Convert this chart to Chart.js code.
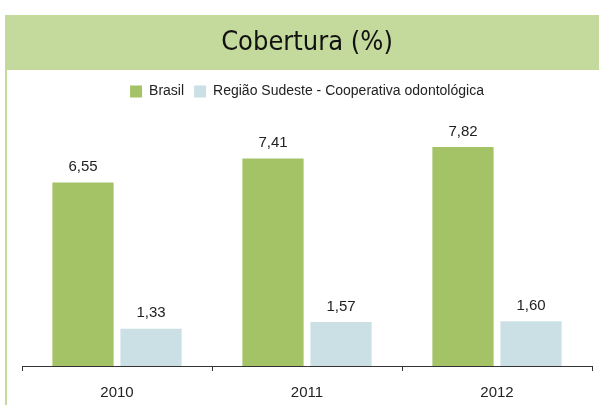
<!DOCTYPE html>
<html>
<head>
<meta charset="utf-8">
<script src="https://cdn.jsdelivr.net/npm/chart.js@4"></script>
<style>
  html, body { margin: 0; padding: 0; background: #ffffff; }
  #wrap { width: 599px; height: 405px; }
</style>
</head>
<body>
<div id="wrap"><canvas id="c" width="599" height="405"></canvas></div>
<script>
const years = ['2010', '2011', '2012'];
const brasil = [6.55, 7.41, 7.82];
const sudeste = [1.33, 1.57, 1.60];
const seriesNames = ['Brasil', 'Região Sudeste - Cooperativa odontológica'];

const BAND = '#c4da9c';
const GREEN = '#a4c266';
const LIGHT = '#cbe0e5';

// Green header band and thin left rule behind everything
const framePlugin = {
  id: 'frame',
  beforeDraw(chart) {
    const ctx = chart.ctx;
    ctx.save();
    ctx.fillStyle = BAND;
    ctx.fillRect(5, 15, chart.width - 5, 55);
    ctx.fillRect(5, 70, 2, chart.height - 70);
    ctx.restore();
  }
};

// Value labels above each bar, decimal comma
const valueLabels = {
  id: 'valueLabels',
  afterDatasetsDraw(chart) {
    const ctx = chart.ctx;
    ctx.save();
    ctx.font = '15px "Liberation Sans", Arial, sans-serif';
    ctx.fillStyle = '#222222';
    ctx.textAlign = 'center';
    ctx.textBaseline = 'bottom';
    chart.data.datasets.forEach((ds, i) => {
      chart.getDatasetMeta(i).data.forEach((bar, j) => {
        const txt = ds.data[j].toFixed(2).replace('.', ',');
        ctx.fillText(txt, bar.x, bar.y - 8);
      });
    });
    ctx.restore();
  }
};

new Chart(document.getElementById('c'), {
  type: 'bar',
  data: {
    labels: years,
    datasets: [
      { label: seriesNames[0], data: brasil, backgroundColor: GREEN,
        barPercentage: 0.9, categoryPercentage: 0.716 },
      { label: seriesNames[1], data: sudeste, backgroundColor: LIGHT,
        barPercentage: 0.9, categoryPercentage: 0.716 }
    ]
  },
  options: {
    responsive: false,
    animation: false,
    layout: { padding: { left: 22, right: 7, top: 0, bottom: -10 } },
    plugins: {
      title: {
        display: true,
        text: 'Cobertura (%)',
        color: '#111111',
        font: { family: '"Liberation Sans Narrow", "DejaVu Sans Condensed", Arial, sans-serif', size: 27, weight: 'normal' },
        padding: { top: 26.6, bottom: 15.4 }
      },
      legend: {
        display: true,
        labels: {
          boxWidth: 12,
          boxHeight: 12,
          padding: 10,
          color: '#222222',
          font: { family: '"Liberation Sans", Arial, sans-serif', size: 14 }
        }
      },
      tooltip: { enabled: false }
    },
    scales: {
      x: {
        grid: { display: true, drawOnChartArea: false, drawTicks: true, tickLength: 5, color: '#333333' },
        border: { display: true, color: '#333333', width: 1 },
        ticks: { color: '#222222', padding: 13, font: { family: '"Liberation Sans", Arial, sans-serif', size: 15 } }
      },
      y: {
        display: false,
        min: 0,
        max: 9.2
      }
    }
  },
  plugins: [framePlugin, valueLabels]
});
</script>
</body>
</html>
